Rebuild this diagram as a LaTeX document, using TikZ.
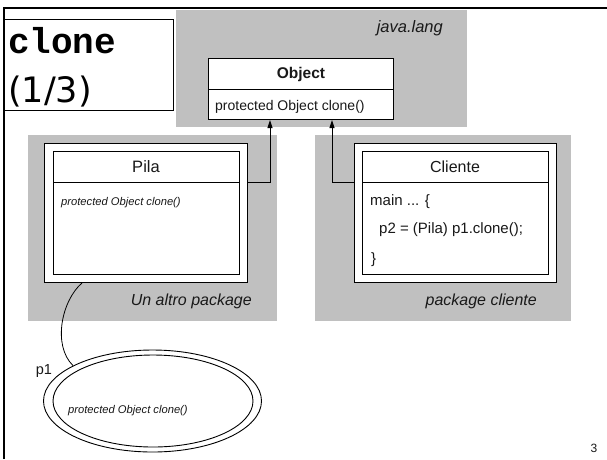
\documentclass[tikz,border=0pt]{standalone}
\usepackage{fontspec}
\setmainfont{Liberation Sans}
\newfontfamily\monob{Liberation Mono}
\newfontfamily\dvs{DejaVu Sans}
\usetikzlibrary{arrows.meta,shapes.geometric}
\definecolor{pkggray}{RGB}{192,192,192}
\newcommand{\fs}[1]{\fontsize{#1}{#1}\selectfont}
\tikzset{
  pkg/.style={fill=pkggray, draw=none, anchor=north west, inner sep=0},
  clsbox/.style={draw=black, fill=white, line width=1pt, anchor=north west, inner sep=0},
  innerbox/.style={draw=black, line width=1pt, anchor=north west, inner sep=0},
  txt/.style={inner sep=0, text=black!90},
  arr/.style={line width=1pt, -{Triangle[length=8pt,width=5pt]}},
  ell/.style={ellipse, draw=black, line width=0.9pt, inner sep=0},
}
\begin{document}
\begin{tikzpicture}[x=1pt,y=-1pt]
\useasboundingbox[fill=white] (0,0) rectangle (607,459);
% packages
\node[pkg, minimum width=291, minimum height=117] (jl) at (176,10) {};
\node[pkg, minimum width=249, minimum height=186] (ua) at (28,135) {};
\node[pkg, minimum width=256, minimum height=186] (pc) at (315,135) {};
\node[txt, anchor=base east, font=\itshape\fs{16.5}] (jlt) at (443,32) {java.lang};
\node[txt, anchor=base east, font=\itshape\fs{16}] (uat) at (252,305) {Un altro package};
\node[txt, anchor=base east, font=\itshape\fs{16}] (pct) at (537,305) {package cliente};
% Object
\node[clsbox, minimum width=185, minimum height=61] (obj) at (208,58) {};
\draw[line width=1pt] ([yshift=-31pt]obj.north west) -- ([yshift=-31pt]obj.north east);
\node[txt, anchor=base, font=\bfseries\fs{15.5}] (objn) at (301,78) {Object};
\node[txt, anchor=base west, font=\fs{14}] (objm) at (215,110) {protected Object clone()};
% Pila
\node[clsbox, minimum width=203, minimum height=139] (pilao) at (44,143) {};
\node[innerbox, minimum width=186, minimum height=123] (pilai) at (53,151) {};
\draw[line width=1pt] ([yshift=-31pt]pilai.north west) -- ([yshift=-31pt]pilai.north east);
\node[txt, anchor=base, font=\fs{16.5}] (pilan) at (146,172) {Pila};
\node[txt, anchor=base west, font=\itshape\fs{11.2}] (pilam) at (61,205) {protected Object clone()};
% Cliente
\node[clsbox, minimum width=202, minimum height=139] (clo) at (354,143) {};
\node[innerbox, minimum width=186, minimum height=123] (cli) at (362,151) {};
\draw[line width=1pt] ([yshift=-31pt]cli.north west) -- ([yshift=-31pt]cli.north east);
\node[txt, anchor=base, font=\fs{16}] (clin) at (455,172) {Cliente};
\node[txt, anchor=base west, font=\fs{15}] (cl1) at (370,205) {main ... \{};
\node[txt, anchor=base west, font=\fs{15}] (cl2) at (379,233) {p2 = (Pila) p1.clone();};
\node[txt, anchor=base west, font=\fs{15}] (cl3) at (371,263) {\}};
% connectors
\draw[arr] ([yshift=-39pt]pilao.north east) -| ([xshift=-31pt]obj.south);
\draw[arr] ([yshift=-39pt]clo.north west) -| ([xshift=31pt]obj.south);
% object instance
\node[ell, minimum width=218, minimum height=102] (ello) at (152.5,401) {};
\node[ell, minimum width=200, minimum height=92] (elli) at (153,401) {};
\node[txt, anchor=base west, font=\itshape\fs{11.2}] (ellt) at (68,413) {protected Object clone()};
\node[txt, font=\fs{14.5}] (p1) at (44,371) {p1};
\draw[line width=0.8pt] ([xshift=38pt]pilao.south west) .. controls (62,300) and (52,345) .. (ello.156);
% title
\node[draw=black, fill=white, line width=1pt, anchor=north west, inner sep=0, minimum width=170, minimum height=91] (title) at (3,19) {};
\node[inner sep=0, anchor=base west, font=\monob\bfseries\fs{36}] (t1) at (8,53) {clone};
\node[inner sep=0, anchor=base west, font=\dvs\fs{35}] (t2) at (8,102) {(1/3)};
% frame
\draw[line width=2pt] (4,459) -- (4,8) -- (607,8);
\node[txt, anchor=base, font=\fs{12}] (pg) at (594,452) {3};
\end{tikzpicture}
\end{document}
